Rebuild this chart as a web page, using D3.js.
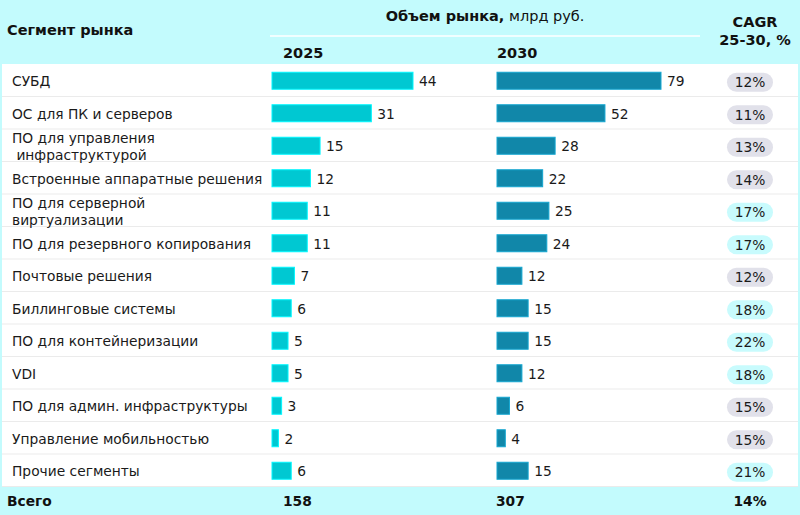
<!DOCTYPE html>
<html>
<head>
<meta charset="utf-8">
<script src="https://cdn.jsdelivr.net/npm/d3@7"></script>
<style>
  body { margin: 0; background: #fff; }
  svg { display: block; font-family: "DejaVu Sans", Verdana, sans-serif; }
</style>
</head>
<body>
<div id="chart"></div>
<script>
// market segments (label lines)
const segments = [
  ["СУБД"],
  ["ОС для ПК и серверов"],
  ["ПО для управления", " инфраструктурой"],
  ["Встроенные аппаратные решения"],
  ["ПО для серверной", "виртуализации"],
  ["ПО для резервного копирования"],
  ["Почтовые решения"],
  ["Биллинговые системы"],
  ["ПО для контейнеризации"],
  ["VDI"],
  ["ПО для админ. инфраструктуры"],
  ["Управление мобильностью"],
  ["Прочие сегменты"]
];
const vol2025 = [44, 31, 15, 12, 11, 11, 7, 6, 5, 5, 3, 2, 6];
const vol2030 = [79, 52, 28, 22, 25, 24, 12, 15, 15, 12, 6, 4, 15];
const cagr = [12, 11, 13, 14, 17, 17, 12, 18, 22, 18, 15, 15, 21];
const totals = { y2025: 158, y2030: 307, cagr: 14 };

const width = 800, height = 515,
  headH = 64, rowH = 32.5,
  x2025 = 272, x2030 = 497, pillX = 750;

const cyanBg = "#c3fbfd";

const svg = d3.select("#chart")
  .append("svg")
  .attr("width", width)
  .attr("height", height);

const y = d3.scaleBand()
  .domain(d3.range(segments.length))
  .range([headH, headH + rowH * segments.length]);

// each year column has its own scale
const w2025 = d3.scaleLinear().domain([0, 44]).range([0, 141]);
const w2030 = d3.scaleLinear().domain([0, 79]).range([0, 164]);

// backgrounds
svg.append("rect").attr("width", width).attr("height", height).attr("fill", cyanBg);
svg.append("rect")
  .attr("x", 2).attr("y", headH)
  .attr("width", width - 4).attr("height", rowH * segments.length)
  .attr("fill", "#fff");
svg.append("line")
  .attr("x1", 270).attr("x2", 700).attr("y1", 36).attr("y2", 36)
  .attr("stroke", "#fff").attr("stroke-width", 1.5);

// header
const head = svg.append("g").attr("fill", "#111").attr("font-size", 14.5);
head.append("text").attr("x", 7).attr("y", 35)
  .attr("font-weight", "bold").text("Сегмент рынка");
const t = head.append("text").attr("x", 485).attr("y", 21)
  .attr("text-anchor", "middle");
t.append("tspan").attr("font-weight", "bold").text("Объем рынка,");
t.append("tspan").text(" млрд руб.");
head.append("text").attr("x", 283).attr("y", 58)
  .attr("font-weight", "bold").text("2025");
head.append("text").attr("x", 497).attr("y", 58)
  .attr("font-weight", "bold").text("2030");
head.append("text").attr("x", 755).attr("y", 27).attr("text-anchor", "middle")
  .attr("font-weight", "bold").text("CAGR");
head.append("text").attr("x", 755).attr("y", 45).attr("text-anchor", "middle")
  .attr("font-weight", "bold").text("25-30, %");

// rows
const rows = svg.append("g")
  .selectAll("g")
  .data(segments)
  .join("g")
  .attr("transform", (d, i) => `translate(0,${y(i)})`);

rows.append("line")
  .attr("x1", 2).attr("x2", width - 2)
  .attr("y1", rowH).attr("y2", rowH)
  .attr("stroke", "#ebebeb");

rows.append("text")
  .attr("x", 12)
  .attr("font-size", 13.8)
  .attr("fill", "#1a1a1a")
  .attr("xml:space", "preserve")
  .selectAll("tspan")
  .data(d => d.map((s, k) => ({ s, k, n: d.length })))
  .join("tspan")
  .attr("x", 12)
  .attr("y", d => rowH / 2 + 6 + (d.k - (d.n - 1) / 2) * 17)
  .text(d => d.s);

function barCol(vals, x0, scale, color) {
  rows.append("rect")
    .attr("x", x0)
    .attr("y", rowH / 2 - 8)
    .attr("width", (d, i) => scale(vals[i]))
    .attr("height", 17)
    .attr("fill", color)
    .attr("stroke", d3.color(color).brighter(0.6))
    .attr("stroke-width", 1);
  rows.append("text")
    .attr("x", (d, i) => x0 + scale(vals[i]) + 6)
    .attr("y", rowH / 2 + 6)
    .attr("font-size", 13.8)
    .attr("fill", "#1a1a1a")
    .text((d, i) => vals[i]);
}
barCol(vol2025, x2025, w2025, "#00c8d2");
barCol(vol2030, x2030, w2030, "#1187a9");

// CAGR pills
rows.append("rect")
  .attr("x", pillX - 23).attr("y", rowH / 2 - 7.5)
  .attr("width", 46).attr("height", 19).attr("rx", 9.5)
  .attr("fill", (d, i) => cagr[i] >= 17 ? "#c8fbfd" : "#e1e1ea");
rows.append("text")
  .attr("x", pillX).attr("y", rowH / 2 + 7)
  .attr("text-anchor", "middle")
  .attr("font-size", 13.8)
  .attr("fill", "#1a1a1a")
  .text((d, i) => cagr[i] + "%");

// footer
const fy = 506;
const foot = svg.append("g").attr("font-size", 13.8).attr("font-weight", "bold").attr("fill", "#111");
foot.append("text").attr("x", 7).attr("y", fy).text("Всего");
foot.append("text").attr("x", 283).attr("y", fy).text(totals.y2025);
foot.append("text").attr("x", 496).attr("y", fy).text(totals.y2030);
foot.append("text").attr("x", pillX).attr("y", fy).attr("text-anchor", "middle").text(totals.cagr + "%");
</script>
</body>
</html>
